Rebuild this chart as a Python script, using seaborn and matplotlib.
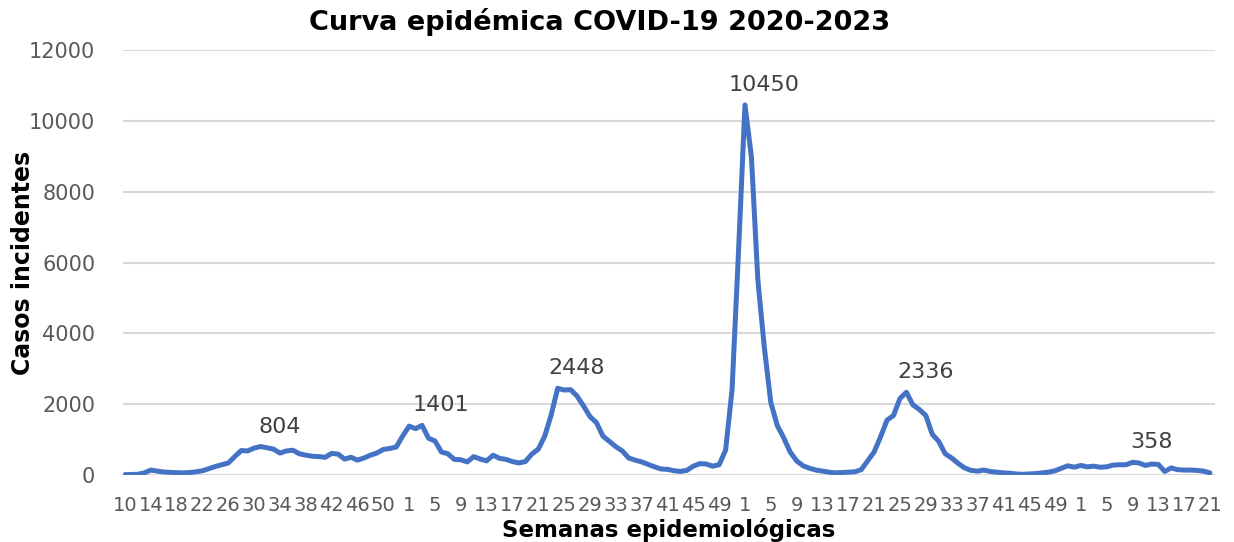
import numpy as np
import pandas as pd
import matplotlib
matplotlib.use("Agg")
import matplotlib.pyplot as plt
import seaborn as sns

# casos semanales por año epidemiológico
casos_2020 = [10, 15, 20, 60, 140, 110, 85, 75, 65, 60, 70, 90, 120, 180, 240,
              290, 340, 520, 690, 680, 760, 804, 770, 730, 620, 680, 700, 600,
              560, 530, 520, 500, 610, 590, 450, 500, 420, 480, 560, 620, 720,
              750, 790, 1100]
casos_2021 = [1380, 1310, 1401, 1040, 960, 650, 600, 440, 430, 370, 520, 450,
              400, 560, 470, 440, 380, 340, 380, 590, 730, 1100, 1700, 2448,
              2400, 2410, 2230, 1950, 1650, 1480, 1100, 950, 800, 680, 480, 420,
              370, 300, 230, 170, 160, 120, 100, 130, 250, 320, 310, 250, 290,
              700, 2400, 6300]
casos_2022 = [10450, 8980, 5500, 3600, 2050, 1400, 1050, 650, 400, 260, 190,
              140, 110, 80, 60, 70, 80, 90, 150, 400, 650, 1080, 1550, 1680,
              2160, 2336, 1980, 1850, 1680, 1150, 950, 600, 480, 330, 200, 130,
              110, 140, 100, 80, 60, 50, 30, 20, 30, 40, 60, 80, 120, 190, 260,
              220]
casos_2023 = [270, 230, 250, 220, 230, 280, 290, 290, 358, 340, 270, 310, 300,
              100, 200, 150, 140, 140, 130, 110, 60]

# semanas epidemiológicas (2020 empieza en la semana 10 y tiene 53 semanas)
semanas = (list(range(10, 54)) + list(range(1, 53)) + list(range(1, 53))
           + list(range(1, 22)))
casos = casos_2020 + casos_2021 + casos_2022 + casos_2023

# picos con etiqueta
picos = [804, 1401, 2448, 10450, 2336, 358]

df = pd.DataFrame({"idx": np.arange(len(casos)), "semana": semanas, "casos": casos})

sns.set_theme(style="white")
plt.rcParams['font.family'] = ['DejaVu Sans']

fig = plt.figure(figsize=(12.34, 5.42), dpi=100)
ax = fig.add_axes([0.0997, 0.1236, 0.885, 0.7841])

sns.lineplot(data=df, x="idx", y="casos", color="#4472C4", linewidth=3.6, ax=ax)

ax.set_ylim(0, 12000)
ax.set_yticks(range(0, 12001, 2000))
ax.set_xlim(-0.3, len(casos) - 0.2)
ax.set_xticks(df["idx"][::4])
ax.set_xticklabels(df["semana"][::4])
ax.yaxis.grid(True, color="#d9d9d9", linewidth=1.5)
ax.set_axisbelow(True)
for s in ax.spines.values():
    s.set_visible(False)
ax.tick_params(axis="both", length=0, colors="#595959")
ax.tick_params(axis="x", pad=15, labelsize=14)
ax.tick_params(axis="y", pad=20, labelsize=15)

ax.set_xlabel("Semanas epidemiológicas", fontsize=16.5, fontweight="bold",
              color="black")
ax.xaxis.set_label_coords(0.5, -0.102)
ax.set_ylabel("Casos incidentes", fontsize=17, fontweight="bold", color="black")
ax.yaxis.set_label_coords(-0.081, 0.5)

# etiquetas de los picos
for p in picos:
    i = casos.index(p)
    ax.annotate(str(p), xy=(i, p), xytext=(19, 20), textcoords="offset pixels",
                ha="center", va="center", fontsize=16, color="#404040")

fig.text(600 / 1234, 1 - 22 / 542, "Curva epidémica COVID-19 2020-2023",
         ha="center", va="center", fontsize=19.5, fontweight="bold",
         color="black")

fig.savefig("out.png", dpi=100)
